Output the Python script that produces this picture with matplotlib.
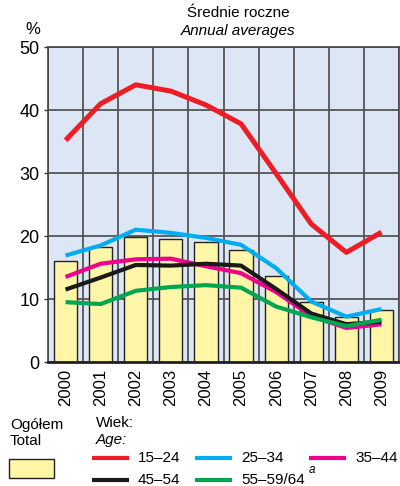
import matplotlib
matplotlib.use("Agg")
import matplotlib.pyplot as plt
from matplotlib.lines import Line2D
from matplotlib.patches import Rectangle
import numpy as np

years = ["2000", "2001", "2002", "2003", "2004", "2005", "2006", "2007", "2008", "2009"]
total = [16.1, 18.3, 19.9, 19.6, 19.0, 17.7, 13.7, 9.6, 7.1, 8.2]
age_15_24 = [35.2, 41.0, 44.0, 43.0, 40.8, 37.8, 29.9, 21.9, 17.4, 20.6]
age_25_34 = [16.9, 18.5, 21.0, 20.5, 19.7, 18.6, 14.9, 9.6, 7.2, 8.4]
age_35_44 = [13.5, 15.6, 16.3, 16.4, 15.2, 14.1, 11.1, 7.3, 5.4, 6.0]
age_45_54 = [11.5, 13.4, 15.4, 15.3, 15.6, 15.3, 11.6, 7.7, 6.0, 6.4]
age_55_64 = [9.5, 9.2, 11.3, 11.9, 12.2, 11.8, 8.8, 7.1, 5.7, 6.7]
yticks = [0, 10, 20, 30, 40, 50]

series = [
    ("15–24", age_15_24, "#EE1C24", 3.6),
    ("25–34", age_25_34, "#00AEEF", 3.0),
    ("35–44", age_35_44, "#EC008C", 3.0),
    ("45–54", age_45_54, "#1A1A1A", 3.0),
    ("55–59/64", age_55_64, "#00A651", 3.0),
]

FONT = ["Liberation Sans", "DejaVu Sans"]
plt.rcParams["font.family"] = FONT

fig = plt.figure(figsize=(4.0, 4.86), dpi=100)
ax = fig.add_axes([48/400, 1-362/486, 351/400, (362-47)/486])
ax.set_facecolor("#DCE6F5")

x = np.arange(len(years))
ax.bar(x, total, width=0.66, color="#FFF6A8", edgecolor="#222222", linewidth=1.0, zorder=2)
for name, vals, col, lw in series:
    ax.plot(x, vals, color=col, linewidth=lw, zorder=3, solid_capstyle="butt")

ax.set_xlim(-0.5, len(years) - 0.5)
ax.set_ylim(0, 50)
ax.set_yticks(yticks)
ax.set_yticklabels([str(v) for v in yticks], fontsize=13)
ax.set_xticks(x)
ax.set_xticklabels(years, rotation=90, fontsize=12)
ax.set_xticks(np.arange(-0.5, len(years)), minor=True)
ax.tick_params(axis="x", which="both", length=0, pad=5)
ax.tick_params(axis="y", length=3, width=1, color="#333333", pad=3)
ax.grid(True, axis="y", which="major", color="#555555", linewidth=1.3, zorder=1)
ax.grid(True, axis="x", which="minor", color="#555555", linewidth=1.3, zorder=1)
ax.set_axisbelow(True)
for s in ["top", "right", "left"]:
    ax.spines[s].set_color("#444444")
    ax.spines[s].set_linewidth(1.2)
ax.spines["bottom"].set_color("#222222")
ax.spines["bottom"].set_linewidth(2.0)

def fy(py):
    return 1 - py / 486

def fx(px):
    return px / 400

fig.text(fx(238), fy(13), "Średnie roczne", ha="center", va="center", fontsize=11)
fig.text(fx(238), fy(31), "Annual averages", ha="center", va="center", fontsize=11, style="italic")
fig.text(fx(33), fy(29), "%", ha="center", va="center", fontsize=12)

# legend
fig.text(fx(10), fy(425), "Ogółem", ha="left", va="center", fontsize=11)
fig.text(fx(10), fy(441), "Total", ha="left", va="center", fontsize=11)
fig.patches.append(Rectangle((fx(9), fy(478)), fx(45), 19/486, transform=fig.transFigure,
                             facecolor="#FFF6A8", edgecolor="#222222", linewidth=1.0))
fig.text(fx(96), fy(423), "Wiek:", ha="left", va="center", fontsize=11)
fig.text(fx(96), fy(440), "Age:", ha="left", va="center", fontsize=11, style="italic")

pos = [(92, 458), (195, 458), (309, 458), (92, 480), (195, 480)]
texts = []
for (name, vals, col, lw), (px, py) in zip(series, pos):
    fig.add_artist(Line2D([fx(px), fx(px + 37)], [fy(py), fy(py)], transform=fig.transFigure,
                          color=col, linewidth=3.0, solid_capstyle="butt"))
    texts.append(fig.text(fx(px + 46), fy(py), name, ha="left", va="center", fontsize=11))

fig.canvas.draw()
bb = texts[-1].get_window_extent(fig.canvas.get_renderer())
fig.text((bb.x1 + 4) / 400, fy(470), "a", ha="left", va="center", fontsize=8.5, style="italic")

fig.savefig("out.png", dpi=100)
